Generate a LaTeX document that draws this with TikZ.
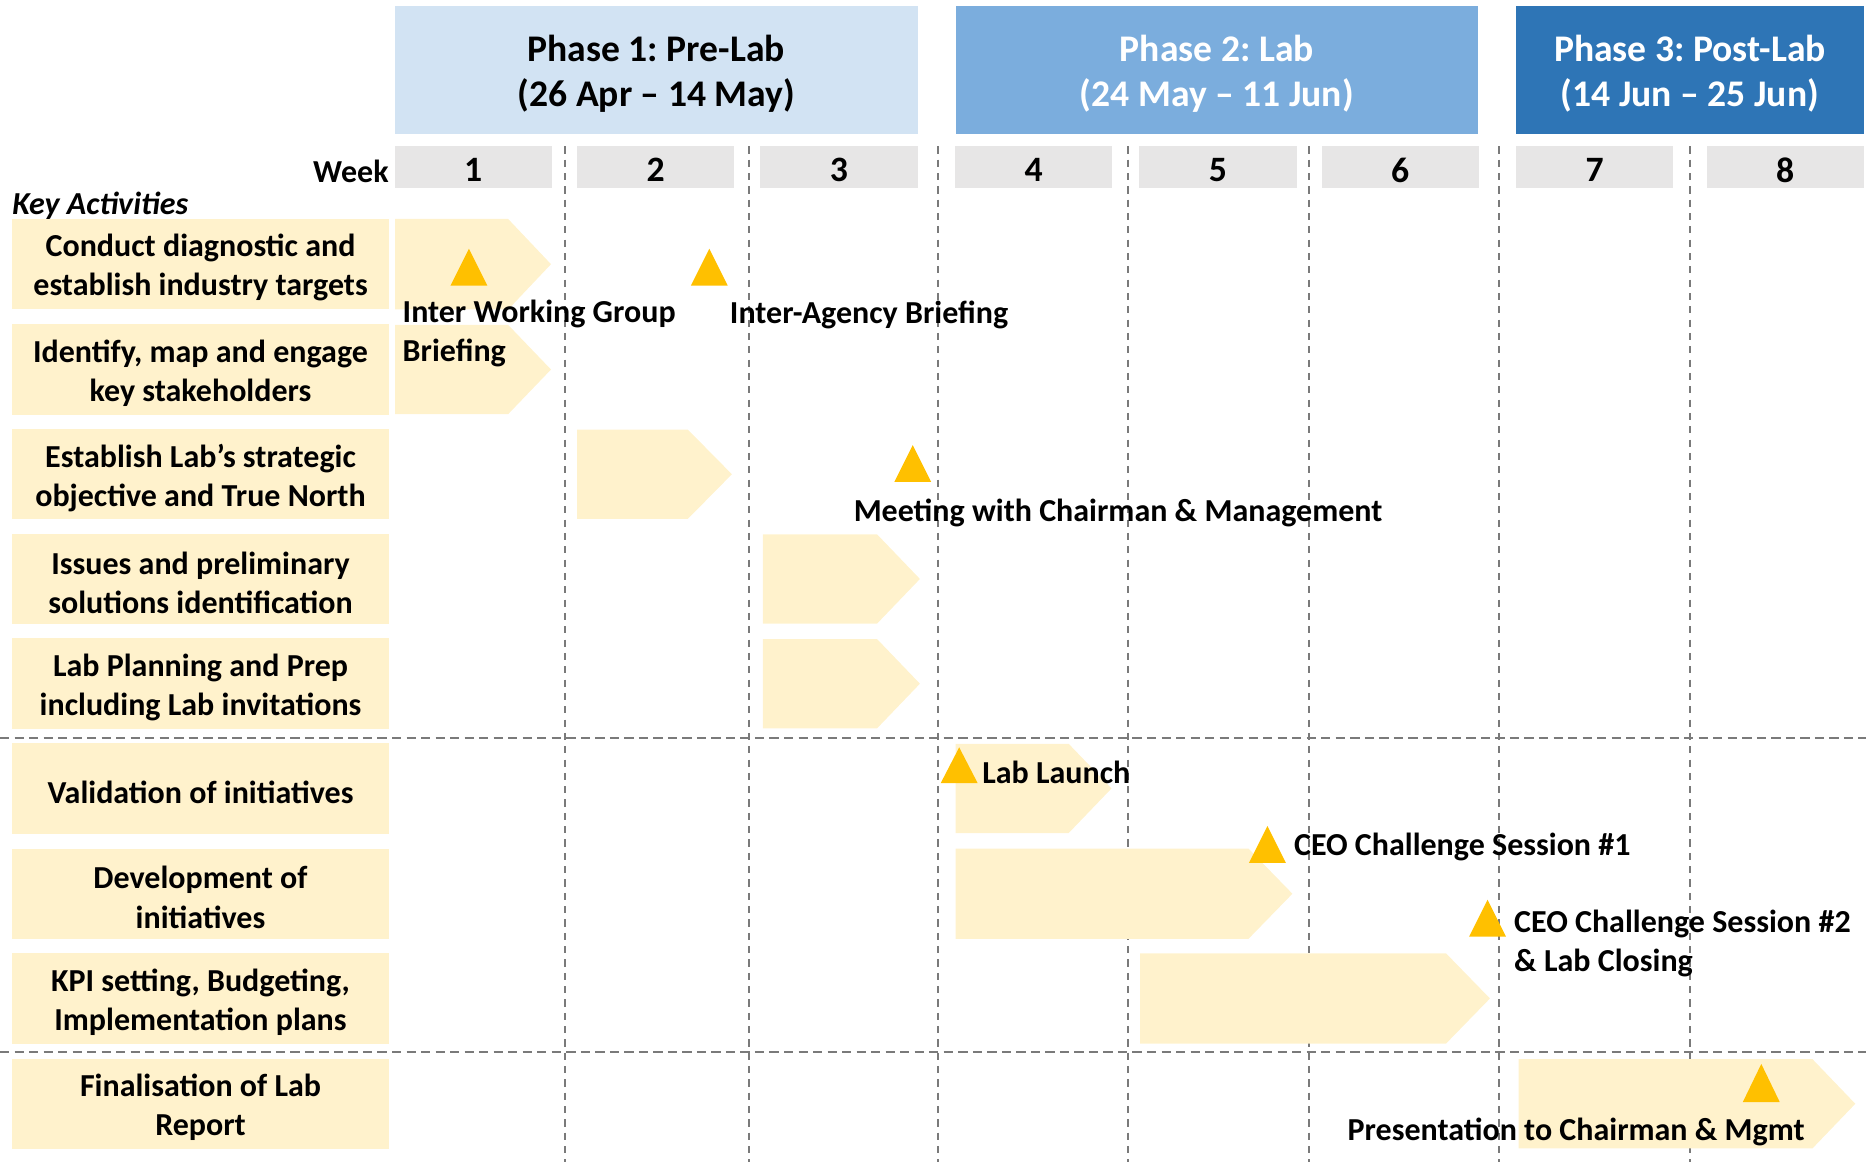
\documentclass[tikz,border=0pt]{standalone}
\usepackage{fontspec}
\setmainfont{Carlito}
\frenchspacing
\definecolor{phaseA}{HTML}{D2E3F3}
\definecolor{phaseB}{HTML}{7BADDD}
\definecolor{phaseC}{HTML}{2E75B6}
\definecolor{weekgray}{HTML}{E7E6E6}
\definecolor{actfill}{HTML}{FFF2CC}
\definecolor{milefill}{HTML}{FFC000}
\definecolor{gridgray}{HTML}{7A7A7A}
\newcommand{\chev}[5]{\fill[actfill] (#1,#4) -- (#2,#4) -- (#3,{(#4+#5)/2}) -- (#2,#5) -- (#1,#5) -- cycle;}
\newcommand{\mile}[3]{\fill[milefill] ({#1-15.5},#3) -- ({#1+15.5},#3) -- (#1,#2) -- cycle;}
\begin{document}
\begin{tikzpicture}[x=0.5pt,y=-0.5pt,
  txt/.style={font=\fontsize{13.45}{16.5}\selectfont\bfseries},
  phasebox/.style={minimum height=54pt, inner sep=0pt},
  phasetext/.style={inner sep=0pt, align=center, yshift=-1.5pt, font=\fontsize{15.8}{19}\selectfont\bfseries},
  weekbox/.style={fill=weekgray, minimum width=66pt, minimum height=17.5pt, inner sep=0pt},
  weektext/.style={inner sep=0pt, yshift=-1.25pt, font=\fontsize{15}{18}\selectfont\bfseries},
  actbox/.style={fill=actfill, minimum width=158.5pt, minimum height=38pt, inner sep=0pt},
  acttext/.style={inner sep=0pt, align=center, yshift=-1.5pt, txt},
  lbl/.style={anchor=west, inner sep=0pt, align=left, yshift=-1pt, txt},
  gridline/.style={draw=gridgray, line width=0.85pt, dash pattern=on 3pt off 2.6pt},
  hgridline/.style={draw=gridgray, line width=0.85pt, dash pattern=on 3.9pt off 2.2pt},
]
\useasboundingbox (0,0) rectangle (1568,976);

% grid
\foreach \gx in {475,629,788,948,1100,1260,1420}
  \draw[gridline] (\gx,123) -- (\gx,976);
\draw[hgridline] (0,620) -- (1568,620);
\draw[hgridline] (0,884) -- (1568,884);

% phases
\node[phasebox, fill=phaseA, minimum width=219.5pt] (p1) at (551.5,59) {};
\node[phasebox, fill=phaseB, minimum width=219.5pt] (p2) at (1022.5,59) {};
\node[phasebox, fill=phaseC, minimum width=146pt] (p3) at (1420,59) {};
\node[phasetext] (p1t) at (p1.center) {Phase 1: Pre-Lab\\(26 Apr -- 14 May)};
\node[phasetext, text=white] (p2t) at (p2.center) {Phase 2: Lab\\(24 May -- 11 Jun)};
\node[phasetext, text=white] (p3t) at (p3.center) {Phase 3: Post-Lab\\(14 Jun -- 25 Jun)};

% weeks
\node[anchor=east, inner sep=0pt, yshift=-1pt, txt] (wk) at (327,142) {Week};
\foreach \n/\wx in {1/397.5,2/551,3/705,4/868.5,5/1023.5,6/1176.5,7/1340,8/1500}{
  \node[weekbox] (w\n) at (\wx,140.5) {};
  \node[weektext] (w\n t) at (w\n.center) {\n};
}

\node[anchor=west, inner sep=0pt, yshift=-1pt, font=\fontsize{13.45}{16.5}\selectfont\bfseries\itshape] (ka) at (10,171) {Key Activities};

% activities
\foreach \n/\ay in {1/222,2/310.5,3/398.5,4/486.5,5/574.5,6/662.5,7/751,8/839,9/927.5}
  \node[actbox] (a\n) at (168.5,\ay) {};
\node[acttext] (a1t) at (a1.center) {Conduct diagnostic and\\establish industry targets};
\node[acttext] (a2t) at (a2.center) {Identify, map and engage\\key stakeholders};
\node[acttext] (a3t) at (a3.center) {Establish Lab’s strategic\\objective and True North};
\node[acttext] (a4t) at (a4.center) {Issues and preliminary\\solutions identification};
\node[acttext] (a5t) at (a5.center) {Lab Planning and Prep\\including Lab invitations};
\node[acttext] (a6t) at (a6.center) {Validation of initiatives};
\node[acttext] (a7t) at (a7.center) {Development of\\initiatives};
\node[acttext] (a8t) at (a8.center) {KPI setting, Budgeting,\\Implementation plans};
\node[acttext] (a9t) at (a9.center) {Finalisation of Lab\\Report};

% chevrons
\chev{332}{427}{463}{184}{260}
\chev{332}{427}{463}{273}{348}
\chev{485}{578}{615}{361}{436}
\chev{641}{737}{773}{449}{524}
\chev{641}{737}{773}{537}{612}
\chev{803}{898}{934}{625}{700}
\chev{803}{1049}{1086}{713}{789}
\chev{958}{1215}{1252}{801}{877}
\chev{1276}{1523}{1559}{890}{965}

% milestones
\mile{394}{209}{240}
\mile{596}{209}{240}
\mile{767}{374}{405}
\mile{806}{628}{658}
\mile{1065}{694}{725}
\mile{1250}{756}{787}
\mile{1480}{894}{926}

% labels
\node[lbl] (l1) at (338,278) {Inter Working Group\\Briefing};
\node[lbl] (l2) at (613,263) {Inter-Agency Briefing};
\node[lbl] (l3) at (717,429) {Meeting with Chairman \& Management};
\node[lbl] (l4) at (825,647) {Lab Launch};
\node[lbl] (l5) at (1087,710) {CEO Challenge Session \#1};
\node[lbl] (l6) at (1272,791) {CEO Challenge Session \#2\\\& Lab Closing};
\node[lbl] (l7) at (1132,949) {Presentation to Chairman \& Mgmt};
\end{tikzpicture}
\end{document}
